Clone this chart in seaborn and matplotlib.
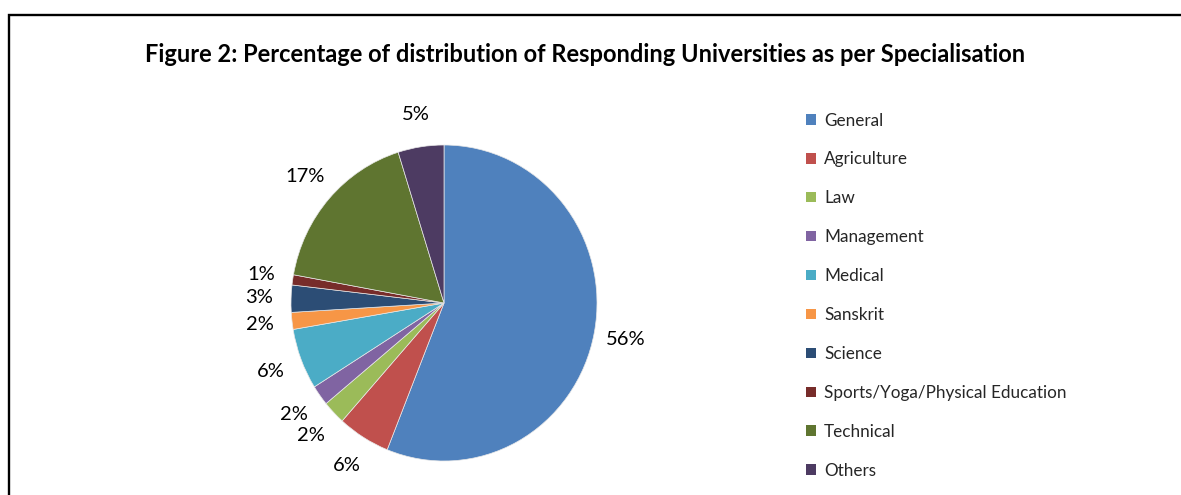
import matplotlib
matplotlib.use("Agg")
import matplotlib.pyplot as plt
from matplotlib.patches import Patch, Rectangle
import seaborn as sns

# Data (percent of responding universities)
categories = ["General", "Agriculture", "Law", "Management", "Medical",
              "Sanskrit", "Science", "Sports/Yoga/Physical Education",
              "Technical", "Others"]
shares = [56.06, 5.54, 2.42, 2.08, 6.23, 1.73, 2.77, 1.04, 17.30, 4.84]
colors = ["#4F81BD", "#C0504D", "#9BBB59", "#8064A2", "#4BACC6",
          "#F79646", "#2C4D75", "#772C2A", "#5F7530", "#4D3B62"]
title = "Figure 2: Percentage of distribution of Responding Universities as per Specialisation"

sns.set_theme(style="white")
plt.rcParams["font.family"] = ["Lato", "DejaVu Sans"]

W, H = 1181, 495
fig = plt.figure(figsize=(W / 100, H / 100), dpi=100)
fig.patch.set_facecolor("white")

# outer frame (only top and left edges visible in the crop)
fig.patches.append(Rectangle((9.5 / W, -0.1), 1.2, (H - 14.5) / H + 0.1,
                             transform=fig.transFigure, fill=False,
                             edgecolor="black", linewidth=1.7))

fig.text(585 / W, 1 - 55 / H, title, ha="center", va="center",
         fontsize=17, fontweight="bold", color="black")

# pie axes
ax = fig.add_axes([291 / W, 1 - 461 / H, 306 / W, 316 / H])
wedges, texts, autotexts = ax.pie(
    shares, colors=colors, startangle=90, counterclock=False,
    autopct="%.0f%%", pctdistance=1.21, radius=1,
    wedgeprops=dict(edgecolor="#e8e8e8", linewidth=0.5),
    textprops=dict(fontsize=14.5, color="black"))
ax.set_aspect("auto")
ax.set_xlim(-1, 1)
ax.set_ylim(-1, 1)
ax.axis("off")

handles = [Patch(facecolor=c, edgecolor="none") for c in colors]
fig.legend(handles, categories, loc="upper left",
           bbox_to_anchor=(806 / W, 1 - 112.5 / H), frameon=False,
           fontsize=12.3, handlelength=0.56, handleheight=0.56,
           handletextpad=0.5, labelspacing=1.34, borderpad=0,
           borderaxespad=0)

fig.savefig("out.png", dpi=100, facecolor="white")
